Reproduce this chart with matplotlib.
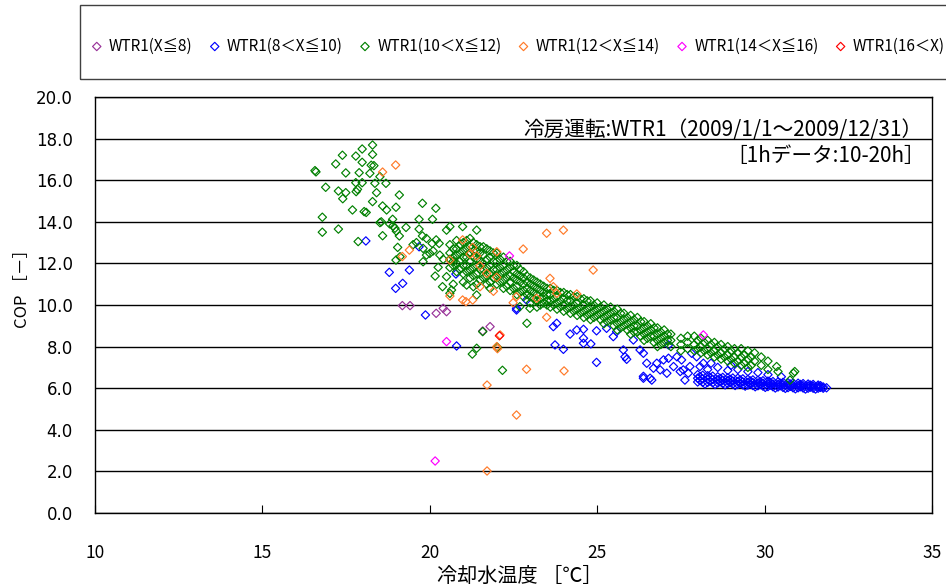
import numpy as np
import matplotlib.pyplot as plt
from matplotlib.patches import Rectangle

plt.rcParams['font.family'] = ['Noto Sans CJK JP', 'DejaVu Sans']

labels = ['WTR1(X≦8)', 'WTR1(8＜X≦10)', 'WTR1(10＜X≦12)',
          'WTR1(12＜X≦14)', 'WTR1(14＜X≦16)', 'WTR1(16＜X)']
colors = ['#993399', '#0000FF', '#008000', '#FF7A28', '#FF00FF', '#FF0000']

# (cooling water temp, COP)
wtr_le8 = [(19.18, 9.97), (19.41, 9.97), (20.19, 9.6), (20.4, 9.84), (20.5, 9.68),
           (21.8, 8.96), (21.58, 8.75)]

wtr_8_10 = [
    (18.09, 13.08), (18.79, 11.57), (19.39, 11.68), (19.19, 11.04), (18.98, 10.8),
    (19.87, 9.52), (19.68, 12.8), (20.78, 11.49), (20.8, 8.03), (22.59, 9.76),
    (22.59, 9.84), (22.89, 10.24), (23.74, 8.08), (23.69, 8.96), (23.79, 9.12),
    (24.19, 8.6), (24.39, 8.8), (24.59, 8.83), (24.98, 8.76), (24.59, 8.4),
    (24.81, 8.13), (24.59, 8.16), (23.99, 7.87), (24.98, 7.24), (25.28, 8.88),
    (25.48, 8.48), (25.58, 8.72), (25.78, 7.84), (25.83, 7.51), (25.88, 7.39),
    (26.08, 8.32), (26.28, 7.84), (26.38, 7.68), (26.48, 7.2), (26.38, 6.48),
    (26.38, 6.57), (26.58, 6.48), (26.63, 6.39), (26.78, 7.2), (26.98, 7.36),
    (27.13, 7.44), (27.13, 8.08), (27.28, 7.04), (27.38, 7.51), (27.52, 7.36),
    (27.57, 6.88), (27.62, 6.39), (27.72, 6.72), (27.77, 7.04), (27.82, 7.68),
    (27.97, 7.51), (28.07, 7.04), (28.17, 7.2), (26.68, 6.96), (26.88, 6.88),
    (27.08, 6.72), (27.48, 6.8),
    (28.3, 6.9), (28.6, 7.0), (28.9, 6.85), (29.2, 6.9), (29.5, 6.8), (29.8, 6.75),
    (30.1, 6.65), (30.5, 6.55), (28.4, 7.2), (29.0, 7.1),
    # dense cluster, warm water
    (28.0, 6.65), (28.3, 6.6), (28.6, 6.55), (28.9, 6.5), (29.2, 6.48), (29.5, 6.42),
    (29.8, 6.38), (30.1, 6.34), (30.4, 6.3), (30.7, 6.26), (31.0, 6.24), (31.3, 6.2),
    (31.6, 6.15),
    (28.15, 6.45), (28.45, 6.42), (28.75, 6.38), (29.05, 6.34), (29.35, 6.3),
    (29.65, 6.27), (29.95, 6.24), (30.25, 6.2), (30.55, 6.17), (30.85, 6.14),
    (31.15, 6.12), (31.45, 6.1), (31.75, 6.06),
    (28.0, 6.3), (28.3, 6.28), (28.6, 6.25), (28.9, 6.22), (29.2, 6.18), (29.5, 6.15),
    (29.8, 6.12), (30.1, 6.08), (30.4, 6.06), (30.7, 6.03), (31.0, 6.02), (31.3, 6.0),
    (31.6, 6.0), (31.85, 6.02),
    (28.15, 6.62), (28.45, 6.58), (28.75, 6.52), (29.05, 6.49), (29.35, 6.45),
    (29.65, 6.4), (29.95, 6.36), (30.25, 6.32), (30.55, 6.28), (30.85, 6.25),
    (31.15, 6.22), (31.45, 6.18),
    (28.15, 6.28), (28.45, 6.26), (28.75, 6.23), (29.05, 6.2), (29.35, 6.16),
    (29.65, 6.13), (29.95, 6.1), (30.25, 6.07), (30.55, 6.04), (30.85, 6.02),
    (31.15, 6.01), (31.45, 6.0), (31.75, 6.0),
    (28.0, 6.48), (28.3, 6.44), (28.6, 6.4), (28.9, 6.36), (29.2, 6.32), (29.5, 6.28),
    (29.8, 6.25), (30.1, 6.22), (30.4, 6.18), (30.7, 6.15), (31.0, 6.13), (31.3, 6.11),
    (31.6, 6.08),
    (28.07, 6.56), (28.37, 6.52), (28.67, 6.47), (28.97, 6.43), (29.27, 6.4),
    (29.57, 6.35), (29.87, 6.31), (30.17, 6.27), (30.47, 6.24), (30.77, 6.2),
    (31.07, 6.18), (31.37, 6.15), (31.67, 6.12),
    (28.07, 6.37), (28.37, 6.34), (28.67, 6.31), (28.97, 6.28), (29.27, 6.24),
    (29.57, 6.21), (29.87, 6.18), (30.17, 6.15), (30.47, 6.12), (30.77, 6.09),
    (31.07, 6.07), (31.37, 6.05), (31.67, 6.04),
    (28.22, 6.2), (28.52, 6.18), (28.82, 6.16), (29.12, 6.13), (29.42, 6.1),
    (29.72, 6.07), (30.02, 6.04), (30.32, 6.01), (30.62, 5.99), (30.92, 5.97),
    (31.22, 5.96), (31.52, 5.96),
]

wtr_10_12 = [
    # scattered, low temperature
    (16.57, 16.46), (16.6, 16.4), (18.29, 17.69), (17.98, 17.5), (17.39, 17.2),
    (17.79, 17.16), (18.29, 17.24), (17.19, 16.78), (17.98, 16.86), (18.33, 16.7),
    (18.25, 16.72), (17.49, 16.35), (17.89, 16.36), (18.21, 16.33), (18.51, 16.17),
    (17.79, 15.88), (17.98, 15.88), (18.36, 15.85), (18.69, 15.85), (16.89, 15.66),
    (17.84, 15.56), (17.8, 15.45), (17.27, 15.48), (17.49, 15.4), (18.41, 15.4),
    (17.4, 15.11), (19.09, 15.29), (18.29, 14.97), (19.78, 14.89), (18.59, 14.76),
    (18.99, 14.7), (20.18, 14.65), (17.69, 14.57), (18.04, 14.49), (18.1, 14.45),
    (18.71, 14.57), (16.79, 14.22), (19.68, 14.12), (20.08, 14.12), (18.51, 13.96),
    (18.89, 14.12), (18.55, 14.0), (18.8, 13.9), (17.27, 13.65), (16.79, 13.5),
    (18.59, 13.33), (19.09, 13.32), (19.29, 13.73), (17.86, 13.05), (18.96, 13.69),
    (18.9, 13.8), (19.0, 13.55),
    (19.68, 13.65), (19.78, 13.32), (19.9, 13.2), (20.07, 12.96), (20.19, 13.13),
    (20.28, 12.96), (20.5, 13.6), (20.6, 13.77), (20.98, 13.77), (21.4, 13.6),
    (19.04, 12.77), (19.11, 12.32), (18.99, 12.16), (19.8, 12.72), (19.8, 12.08),
    (20.0, 12.48), (20.1, 12.6), (20.25, 11.81), (20.16, 11.39), (20.5, 11.36),
    (20.38, 10.88), (20.65, 10.72), (20.6, 10.56), (21.1, 10.96), (21.3, 10.88),
    (21.4, 10.48), (19.5, 12.9), (19.6, 13.0), (20.3, 12.4), (20.4, 12.2),
    (19.9, 12.4), (20.7, 12.1), (20.7, 11.0),
    (22.9, 9.12), (22.69, 9.92), (22.99, 9.84), (21.27, 7.64), (21.4, 7.92),
    (22.17, 6.86), (21.58, 8.72), (22.02, 7.97),
    # main band
    (20.6, 12.9), (20.6, 12.5), (20.6, 12.2), (20.6, 11.8),
    (20.8, 13.1), (20.8, 12.7), (20.8, 12.4), (20.8, 12.0), (20.8, 11.6),
    (21.0, 13.0), (21.0, 12.6), (21.0, 12.3), (21.0, 11.9), (21.0, 11.5), (21.0, 11.1),
    (21.2, 13.2), (21.2, 12.8), (21.2, 12.5), (21.2, 12.1), (21.2, 11.7), (21.2, 11.3),
    (21.4, 12.9), (21.4, 12.6), (21.4, 12.2), (21.4, 11.9), (21.4, 11.5), (21.4, 11.0),
    (21.6, 12.8), (21.6, 12.4), (21.6, 12.0), (21.6, 11.7), (21.6, 11.3),
    (21.8, 12.6), (21.8, 12.3), (21.8, 11.9), (21.8, 11.5), (21.8, 11.1), (21.8, 10.8),
    (22.0, 12.5), (22.0, 12.1), (22.0, 11.7), (22.0, 11.4), (22.0, 11.0),
    (22.2, 12.3), (22.2, 11.9), (22.2, 11.6), (22.2, 11.2), (22.2, 10.8),
    (22.4, 12.1), (22.4, 11.8), (22.4, 11.4), (22.4, 11.1), (22.4, 10.7),
    (22.6, 11.9), (22.6, 11.5), (22.6, 11.2), (22.6, 10.9), (22.6, 10.5),
    (22.8, 11.6), (22.8, 11.3), (22.8, 11.0), (22.8, 10.7), (22.8, 10.4),
    (23.0, 11.3), (23.0, 11.0), (23.0, 10.7), (23.0, 10.4), (23.0, 10.1),
    (23.2, 11.1), (23.2, 10.8), (23.2, 10.5), (23.2, 10.2), (23.2, 9.9),
    (23.4, 10.9), (23.4, 10.6), (23.4, 10.4), (23.4, 10.1),
    (23.6, 10.8), (23.6, 10.5), (23.6, 10.2), (23.6, 9.9),
    (23.8, 10.7), (23.8, 10.4), (23.8, 10.1), (23.8, 9.8),
    (24.0, 10.6), (24.0, 10.3), (24.0, 10.0), (24.0, 9.7),
    (24.2, 10.5), (24.2, 10.2), (24.2, 9.9), (24.2, 9.6),
    (24.4, 10.4), (24.4, 10.1), (24.4, 9.8), (24.4, 9.5),
    (24.6, 10.3), (24.6, 10.0), (24.6, 9.7), (24.6, 9.4),
    (24.8, 10.2), (24.8, 9.9), (24.8, 9.6), (24.8, 9.3),
    (25.0, 10.1), (25.0, 9.8), (25.0, 9.5),
    (25.2, 10.0), (25.2, 9.7), (25.2, 9.4), (25.2, 9.1),
    (25.4, 9.9), (25.4, 9.6), (25.4, 9.3),
    (25.6, 9.8), (25.6, 9.4), (25.6, 9.1), (25.6, 8.8),
    (25.8, 9.6), (25.8, 9.3), (25.8, 9.0),
    (26.0, 9.5), (26.0, 9.2), (26.0, 8.9), (26.0, 8.6),
    (26.2, 9.4), (26.2, 9.0), (26.2, 8.7),
    (26.4, 9.2), (26.4, 8.9), (26.4, 8.6), (26.4, 8.3),
    (26.6, 9.1), (26.6, 8.8), (26.6, 8.5),
    (26.8, 8.9), (26.8, 8.6), (26.8, 8.3), (26.8, 8.0),
    (27.0, 8.8), (27.0, 8.5), (27.0, 8.2),
    (27.2, 8.6), (27.2, 8.3), (27.2, 8.0),
    (27.5, 8.4), (27.5, 8.1), (27.5, 7.8),
    (27.7, 8.5), (27.7, 8.2), (27.7, 7.9),
    (27.9, 8.5), (27.9, 8.1), (27.9, 7.8),
    (28.1, 8.4), (28.1, 8.0), (28.1, 7.7),
    (28.3, 8.3), (28.3, 7.9), (28.3, 7.6),
    (28.5, 8.2), (28.5, 7.8), (28.5, 7.5),
    (28.7, 8.1), (28.7, 7.7), (28.7, 7.4),
    (28.9, 8.0), (28.9, 7.6), (28.9, 7.3),
    (29.1, 7.9), (29.1, 7.5), (29.1, 7.2),
    (29.3, 7.9), (29.3, 7.5), (29.3, 7.1),
    (29.5, 7.8), (29.5, 7.4), (29.5, 7.0),
    (29.7, 7.7), (29.7, 7.3),
    (29.9, 7.5), (29.9, 7.1),
    (30.1, 7.3), (30.1, 6.9),
    (30.36, 7.04), (30.4, 6.8),
    (30.76, 6.39), (30.9, 6.8), (30.86, 6.72),
    # main band, in between
    (20.7, 12.7), (20.7, 12.3), (20.7, 11.9),
    (20.9, 12.9), (20.9, 12.5), (20.9, 12.1), (20.9, 11.7),
    (21.1, 13.1), (21.1, 12.7), (21.1, 12.3), (21.1, 11.9), (21.1, 11.6),
    (21.3, 13.0), (21.3, 12.6), (21.3, 12.3), (21.3, 11.8), (21.3, 11.4),
    (21.5, 12.8), (21.5, 12.5), (21.5, 12.1), (21.5, 11.7), (21.5, 11.2),
    (21.7, 12.7), (21.7, 12.2), (21.7, 11.8), (21.7, 11.4), (21.7, 11.0),
    (21.9, 12.5), (21.9, 12.1), (21.9, 11.7), (21.9, 11.3),
    (22.1, 12.2), (22.1, 11.8), (22.1, 11.5), (22.1, 11.1),
    (22.3, 12.1), (22.3, 11.7), (22.3, 11.3), (22.3, 10.9),
    (22.5, 11.9), (22.5, 11.6), (22.5, 11.3), (22.5, 10.8),
    (22.7, 11.7), (22.7, 11.4), (22.7, 11.1), (22.7, 10.6),
    (22.9, 11.4), (22.9, 11.1), (22.9, 10.8), (22.9, 10.5),
    (23.1, 11.2), (23.1, 10.9), (23.1, 10.6), (23.1, 10.3),
    (23.3, 11.0), (23.3, 10.7), (23.3, 10.3), (23.3, 10.0),
    (23.5, 10.8), (23.5, 10.5), (23.5, 10.2), (23.5, 10.0),
    (23.7, 10.7), (23.7, 10.3), (23.7, 10.0),
    (23.9, 10.6), (23.9, 10.2), (23.9, 9.9),
    (24.1, 10.5), (24.1, 10.2), (24.1, 9.8),
    (24.3, 10.4), (24.3, 10.0), (24.3, 9.7),
    (24.5, 10.3), (24.5, 9.9), (24.5, 9.6),
    (24.7, 10.2), (24.7, 9.8), (24.7, 9.5),
    (24.9, 10.0), (24.9, 9.7), (24.9, 9.4),
    (25.1, 9.9), (25.1, 9.6), (25.1, 9.3),
    (25.3, 9.8), (25.3, 9.5), (25.3, 9.2),
    (25.5, 9.7), (25.5, 9.4), (25.5, 9.0),
    (25.7, 9.6), (25.7, 9.2), (25.7, 8.9),
    (25.9, 9.4), (25.9, 9.1), (25.9, 8.8),
    (26.1, 9.3), (26.1, 9.0), (26.1, 8.7),
    (26.3, 9.2), (26.3, 8.8), (26.3, 8.5),
    (26.5, 9.0), (26.5, 8.7), (26.5, 8.4),
    (26.7, 8.9), (26.7, 8.5), (26.7, 8.2),
    (26.9, 8.7), (26.9, 8.4), (26.9, 8.1),
    (27.1, 8.6), (27.1, 8.3),
    (28.0, 8.3), (28.0, 7.9), (28.2, 8.2), (28.2, 7.8),
    (28.4, 8.1), (28.4, 7.7), (28.6, 8.0), (28.6, 7.6),
    (28.8, 7.9), (28.8, 7.5), (29.0, 7.8), (29.0, 7.4),
    (29.2, 7.7), (29.2, 7.3), (29.4, 7.6), (29.4, 7.2),
    (29.6, 7.5), (29.6, 7.1),
]

wtr_12_14 = [
    (18.98, 16.73), (18.59, 16.39), (23.49, 13.45), (23.99, 13.6), (22.79, 12.69),
    (22.0, 12.56), (20.98, 13.13), (21.28, 12.77), (21.2, 12.45), (21.4, 12.36),
    (21.5, 11.88), (21.7, 11.52), (22.0, 11.33), (21.5, 10.88), (21.9, 10.66),
    (20.6, 12.16), (20.6, 10.43), (20.98, 10.24), (21.08, 10.16), (21.28, 10.24),
    (19.18, 12.33), (19.39, 12.64), (24.88, 11.68), (23.59, 11.28), (23.69, 10.88),
    (23.79, 10.56), (24.39, 10.53), (22.59, 10.4), (23.19, 10.32), (22.49, 10.11),
    (23.49, 9.41), (22.1, 8.56), (22.0, 8.0), (22.02, 7.9), (22.89, 6.91),
    (24.01, 6.83), (21.71, 6.15), (22.59, 4.71), (21.71, 2.02),
]

wtr_14_16 = [(22.38, 12.36), (20.5, 8.24), (20.16, 2.5), (28.17, 8.56)]

wtr_gt16 = [(22.08, 8.52)]

series = [wtr_le8, wtr_8_10, wtr_10_12, wtr_12_14, wtr_14_16, wtr_gt16]

fig = plt.figure(figsize=(9.46, 5.87), dpi=100)
ax = fig.add_axes([95/946, 1-513/587, (932-95)/946, (513-97)/587])

handles = []
for pts, c, lab in zip(series, colors, labels):
    xs = [p[0] for p in pts]
    ys = [p[1] for p in pts]
    h = ax.scatter(xs, ys, s=18, marker='D', facecolors='none', edgecolors=c,
                   linewidths=0.85, label=lab)
    handles.append(h)

ax.set_xlim(10, 35)
ax.set_ylim(0, 20)
ax.set_xticks(np.arange(10, 36, 5))
ax.set_yticks(np.arange(0, 21, 2))
ax.set_yticklabels(['{0:.1f}'.format(v) for v in np.arange(0, 21, 2)])
ax.yaxis.grid(True, color='black', linewidth=1.0)
ax.set_axisbelow(True)
ax.tick_params(axis='x', direction='in', length=6, pad=22, labelsize=12.5)
ax.tick_params(axis='y', direction='in', length=0, pad=16, labelsize=12)
for lab in ax.get_yticklabels():
    lab.set_family('DejaVu Sans')
for s in ax.spines.values():
    s.set_linewidth(1.0)

ax.set_xlabel('冷却水温度 ［℃］', fontsize=14.5)
ax.xaxis.set_label_coords(0.508, -0.128)
ax.set_ylabel('COP ［－］', fontsize=12)
ax.yaxis.set_label_coords(-0.077, 0.55)

ax.text(0.988, 0.921, '冷房運転:WTR1（2009/1/1～2009/12/31）', transform=ax.transAxes,
        ha='right', va='center', fontsize=14.9)
ax.text(0.991, 0.858, '［1hデータ:10-20h］', transform=ax.transAxes,
        ha='right', va='center', fontsize=14.9)

# legend box running off the right edge
fig.patches.append(Rectangle((80/946, 1-79/587), 0.95, 74/587, transform=fig.transFigure,
                             fill=False, edgecolor='#404040', linewidth=1.0))
fig.legend(handles=handles, loc='center left', bbox_to_anchor=(83/946, 1-46/587),
           ncol=6, frameon=False, fontsize=11, handletextpad=0.3,
           columnspacing=0.95, handlelength=1.0, scatterpoints=1, borderaxespad=0)

fig.savefig('out.png', dpi=100)
